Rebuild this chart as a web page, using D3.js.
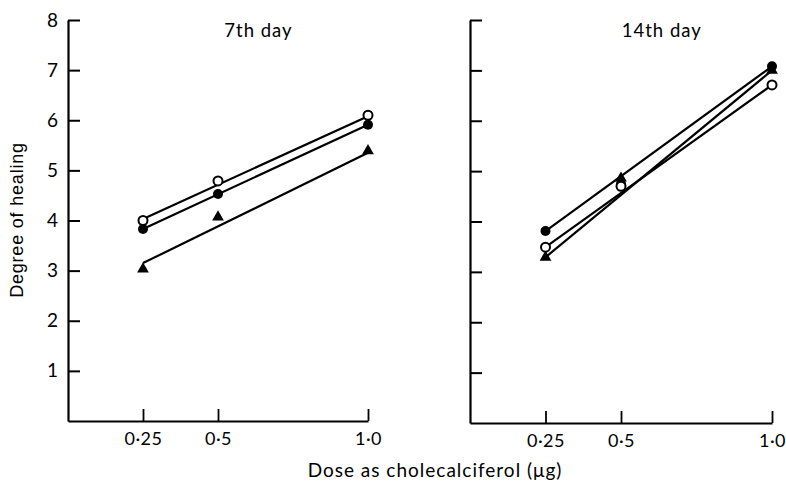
<!DOCTYPE html>
<html>
<head>
<meta charset="utf-8">
<script src="https://cdn.jsdelivr.net/npm/d3@7"></script>
<style>
body { margin: 0; background: #fff; }
text { fill: #000; }
</style>
</head>
<body>
<div id="myDiv"></div>
<script>
// doses and tick labels
var doses = [0.25, 0.5, 1.0];
var doseLabels = ["0·25", "0·5", "1·0"];
var yTicks = [1, 2, 3, 4, 5, 6, 7, 8];
var panelTitles = ["7th day", "14th day"];

// 7th day
var day7Open = [4.0, 4.79, 6.1];
var day7Filled = [3.83, 4.53, 5.91];
var day7Tri = [3.03, 4.07, 5.39];
// fitted lines, values at 0.25 and 1.0
var day7OpenFit = [4.03, 6.08];
var day7FilledFit = [3.83, 5.91];
var day7TriFit = [3.15, 5.35];

// 14th day
var day14Open = [3.49, 4.70, 6.71];
var day14Filled = [3.81, 4.75, 7.08];
var day14Tri = [3.29, 4.86, 7.0];
var day14OpenFit = [3.49, 6.71];
var day14FilledFit = [3.81, 7.08];
var day14TriFit = [3.29, 7.0];

var fitDoses = [0.25, 1.0];

var svg = d3.select("#myDiv").append("svg")
    .attr("width", 786)
    .attr("height", 485);

var font = "Lato, 'Open Sans', sans-serif";

function drawPanel(left, right, top, bottom, title, showLabels, open, filled, tri, openFit, filledFit, triFit){

    var x = d3.scaleLinear().domain([0, 1]).range([left, right]);
    var y = d3.scaleLinear().domain([0, 8]).range([bottom, top]);

    var g = svg.append("g");

    var yAxis = d3.axisLeft(y)
        .tickValues(yTicks)
        .tickSize(-12)
        .tickSizeOuter(0)
        .tickPadding(10)
        .tickFormat(showLabels ? d3.format("d") : "");

    g.append("g")
        .attr("transform", "translate(" + left + ",0)")
        .call(yAxis)
        .call(function(a){
            a.selectAll("path").attr("stroke", "#000").attr("stroke-width", 2.2);
            a.selectAll("line").attr("stroke", "#000").attr("stroke-width", 2);
            a.selectAll("text").attr("font-family", font).attr("font-size", 19);
        });

    var xAxis = d3.axisBottom(x)
        .tickValues(doses)
        .tickSize(-12)
        .tickSizeOuter(0)
        .tickPadding(11)
        .tickFormat(function(d, i){ return doseLabels[i]; });

    g.append("g")
        .attr("transform", "translate(0," + bottom + ")")
        .call(xAxis)
        .call(function(a){
            a.selectAll("path").attr("stroke", "#000").attr("stroke-width", 2.2);
            a.selectAll("line").attr("stroke", "#000").attr("stroke-width", 1.8);
            a.selectAll("text").attr("font-family", font).attr("font-size", 18).attr("letter-spacing", 0.5);
        });

    g.append("text")
        .attr("x", (x(0.25) + x(1.0)) / 2 + 3)
        .attr("y", 37)
        .attr("text-anchor", "middle")
        .attr("font-family", font)
        .attr("font-size", 18.5)
        .attr("letter-spacing", 1)
        .text(title);

    var line = d3.line()
        .x(function(d, i){ return x(fitDoses[i]); })
        .y(function(d){ return y(d); });

    [openFit, filledFit, triFit].forEach(function(f){
        g.append("path")
            .attr("d", line(f))
            .attr("fill", "none")
            .attr("stroke", "#000")
            .attr("stroke-width", 2.2);
    });

    g.selectAll(".filled")
        .data(filled)
        .enter()
        .append("circle")
        .attr("cx", function(d, i){ return x(doses[i]); })
        .attr("cy", function(d){ return y(d); })
        .attr("r", 5)
        .attr("fill", "#000");

    g.selectAll(".tri")
        .data(tri)
        .enter()
        .append("path")
        .attr("transform", function(d, i){ return "translate(" + x(doses[i]) + "," + y(d) + ")"; })
        .attr("d", d3.symbol().type(d3.symbolTriangle).size(60))
        .attr("fill", "#000");

    g.selectAll(".open")
        .data(open)
        .enter()
        .append("circle")
        .attr("cx", function(d, i){ return x(doses[i]); })
        .attr("cy", function(d){ return y(d); })
        .attr("r", 4.5)
        .attr("fill", "#fff")
        .attr("stroke", "#000")
        .attr("stroke-width", 2);
}

drawPanel(68, 368, 20, 421, panelTitles[0], true, day7Open, day7Filled, day7Tri, day7OpenFit, day7FilledFit, day7TriFit);
drawPanel(470, 772, 20, 423, panelTitles[1], false, day14Open, day14Filled, day14Tri, day14OpenFit, day14FilledFit, day14TriFit);

svg.append("text")
    .attr("x", 435)
    .attr("y", 477)
    .attr("text-anchor", "middle")
    .attr("font-family", font)
    .attr("font-size", 19)
    .attr("letter-spacing", 1)
    .text("Dose as cholecalciferol (μg)");

svg.append("text")
    .attr("transform", "translate(23,220) rotate(-90)")
    .attr("text-anchor", "middle")
    .attr("font-family", "'Liberation Sans', Arial, sans-serif")
    .attr("font-size", 18)
    .attr("letter-spacing", 0.8)
    .text("Degree of healing");
</script>
</body>
</html>
